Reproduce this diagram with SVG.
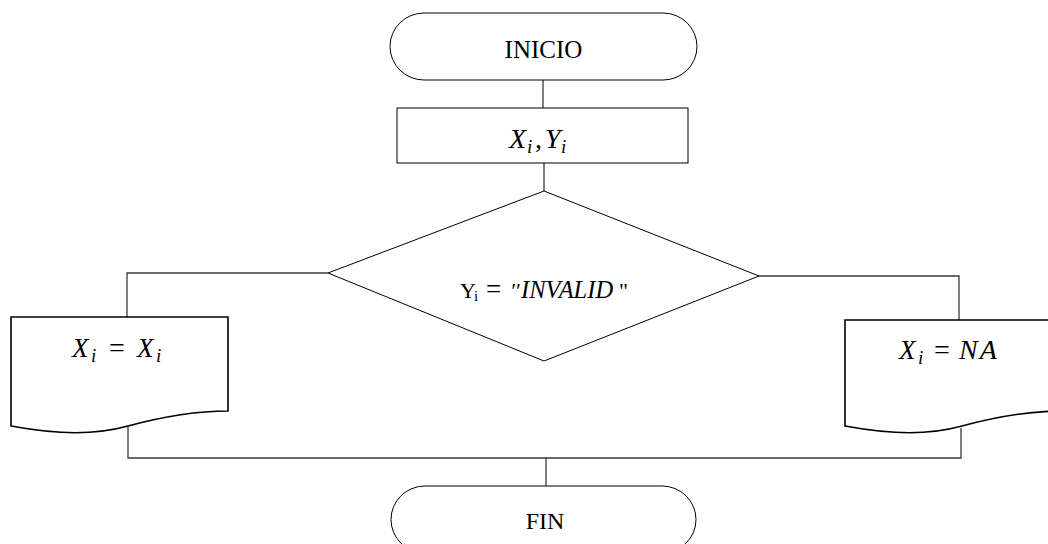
<svg xmlns="http://www.w3.org/2000/svg" width="1048" height="544" viewBox="0 0 1048 544">
<style>
.shape{fill:#fff;stroke:#000;stroke-width:1}
.doc{fill:#fff;stroke:#000;stroke-width:1.6}
.conn{fill:none;stroke:#3a3a3a;stroke-width:1.3}
.t{font-family:"Liberation Serif",serif;fill:#000;text-anchor:middle}
.m{font-family:"Liberation Serif",serif;fill:#000}
.i{font-style:italic}
</style>
<rect width="1048" height="544" fill="#fff"/>
<g id="connectors">
<line class="conn" x1="543" y1="80" x2="543" y2="108"/>
<line class="conn" x1="544" y1="163" x2="544" y2="191"/>
<polyline class="conn" points="328,273 127,273 127,317"/>
<polyline class="conn" points="759,276 959,276 959,320"/>
<polyline class="conn" points="128,427 128,458 961,458 961,428"/>
<line class="conn" x1="546" y1="458" x2="546" y2="486"/>
</g>
<g id="inicio">
<rect class="shape" x="390" y="13" width="307" height="67" rx="34" ry="33.5"/>
<text class="t" x="543.5" y="58" font-size="25">INICIO</text>
</g>
<g id="entrada">
<rect class="shape" x="397" y="108" width="291" height="55"/>
<text class="m" y="148" font-size="28"><tspan class="i" x="509">X</tspan><tspan class="i" x="527" dy="5" font-size="19">i</tspan><tspan x="535" dy="-5">,</tspan><tspan class="i" x="545">Y</tspan><tspan class="i" x="561" dy="5" font-size="19">i</tspan></text>
</g>
<g id="decision">
<polygon class="shape" points="544,191 759,276 544,361 328,273"/>
<text class="m" y="298" font-size="22"><tspan x="460">Y</tspan><tspan x="474" dy="3" font-size="15">i</tspan><tspan x="486" dy="-3" font-size="27">=</tspan><tspan class="i" x="510">′′</tspan><tspan class="i" x="521" font-size="24.5">INVALID</tspan><tspan x="619">"</tspan></text>
</g>
<g id="doc-left">
<path class="doc" d="M11,317 L228,317 L228,411 C195,411 165,416 128,426 C95,435 60,435 11,426 Z"/>
<text class="m" y="357" font-size="27"><tspan class="i" x="72">X</tspan><tspan class="i" x="91" dy="5" font-size="19">i</tspan><tspan x="109" dy="-5" font-size="28">=</tspan><tspan class="i" x="137">X</tspan><tspan class="i" x="156" dy="5" font-size="19">i</tspan></text>
</g>
<g id="doc-right">
<path class="doc" d="M845,320 L1062,320 L1062,411 C1029,411 999,416 962,426 C929,435 894,435 845,426 Z"/>
<text class="m" y="359" font-size="27"><tspan class="i" x="899">X</tspan><tspan class="i" x="918" dy="5" font-size="19">i</tspan><tspan x="934" dy="-5" font-size="28">=</tspan><tspan class="i" x="959" font-size="28" letter-spacing="2">NA</tspan></text>
</g>
<g id="fin">
<rect class="shape" x="391" y="486" width="305" height="67" rx="34" ry="33.5"/>
<text class="t" x="545" y="529" font-size="24">FIN</text>
</g>
</svg>
